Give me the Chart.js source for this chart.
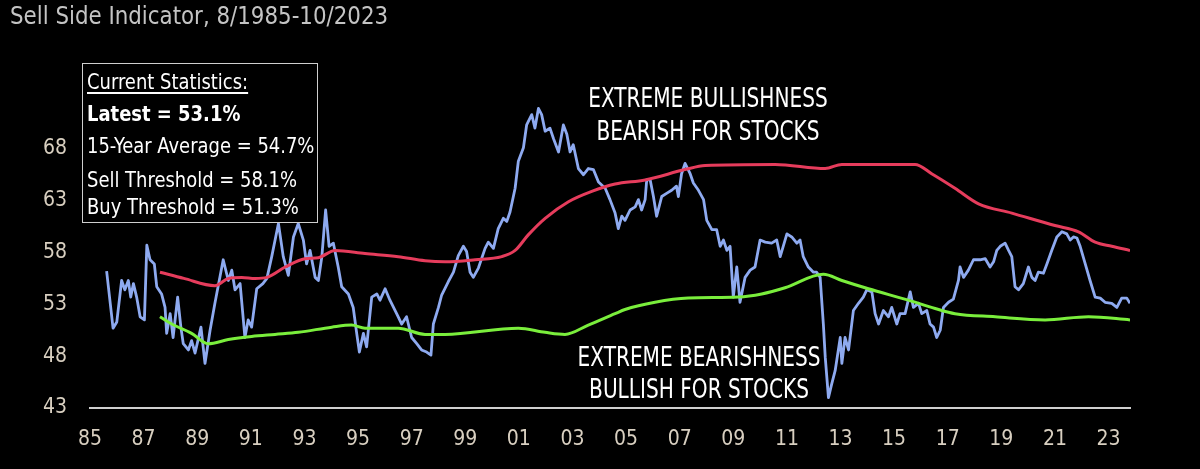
<!DOCTYPE html>
<html>
<head>
<meta charset="utf-8">
<script src="https://cdn.jsdelivr.net/npm/chart.js@4.4.0/dist/chart.umd.min.js"></script>
<style>
  html, body { margin: 0; padding: 0; background: #000; }
  #wrap { position: relative; width: 1200px; height: 469px; overflow: hidden; background: #000;
          font-family: "DejaVu Sans Condensed", "Liberation Sans Narrow", sans-serif; }
  #chart { position: absolute; left: 0; top: 0; }
  .txt { position: absolute; white-space: nowrap; line-height: 1; }
  #title { left: 10px; top: 4px; font-size: 24px; color: #c4c4c4; transform: scaleX(0.99); transform-origin: left center; }
  #stats { position: absolute; left: 82px; top: 63px; width: 234px; height: 158px; border: 1.5px solid #cfcfcf; }
  .st { left: 4px; color: #fff; font-size: 21px; transform: scaleX(0.95); transform-origin: left center; }
  .note { color: #fff; font-size: 26px; text-align: center; width: 300px; transform: scaleX(0.86); transform-origin: center center; }
</style>
</head>
<body>
<div id="wrap">
  <canvas id="chart" width="1200" height="469"></canvas>
  <div id="title" class="txt">Sell Side Indicator, 8/1985-10/2023</div>
  <div id="stats">
    <div class="txt st" style="top:8px;text-decoration:underline;text-underline-offset:3px">Current Statistics:</div>
    <div class="txt st" style="top:40px;font-weight:bold">Latest = 53.1%</div>
    <div class="txt st" style="top:72px">15-Year Average = 54.7%</div>
    <div class="txt st" style="top:106px">Sell Threshold = 58.1%</div>
    <div class="txt st" style="top:133px">Buy Threshold = 51.3%</div>
  </div>
  <div class="txt note" style="left:558px;top:85px">EXTREME BULLISHNESS</div>
  <div class="txt note" style="left:558px;top:118px">BEARISH FOR STOCKS</div>
  <div class="txt note" style="left:549px;top:344px">EXTREME BEARISHNESS</div>
  <div class="txt note" style="left:549px;top:376px">BULLISH FOR STOCKS</div>
</div>
<script>
// ---- data ----
const ssiDates = [
  1985.62, 1985.86, 1986.0, 1986.18, 1986.3, 1986.43, 1986.52, 1986.62, 1986.74, 1986.87,
  1987.03, 1987.12, 1987.24, 1987.4, 1987.49, 1987.67, 1987.8, 1987.86, 1987.99, 1988.1,
  1988.27, 1988.39, 1988.48, 1988.67, 1988.79, 1988.92, 1989.14, 1989.29, 1989.48, 1989.66,
  1989.97, 1990.16, 1990.29, 1990.41, 1990.6, 1990.78, 1990.9, 1991.03, 1991.22, 1991.45,
  1991.6, 1991.78, 1992.03, 1992.21, 1992.4, 1992.59, 1992.77, 1992.96, 1993.08, 1993.21,
  1993.4, 1993.52, 1993.65, 1993.79, 1993.92, 1994.08, 1994.26, 1994.39, 1994.64, 1994.82,
  1994.95, 1995.05, 1995.2, 1995.32, 1995.51, 1995.7, 1995.82, 1996.01, 1996.19, 1996.44,
  1996.63, 1996.81, 1997.0, 1997.19, 1997.37, 1997.56, 1997.72, 1997.81, 1998.0, 1998.12,
  1998.37, 1998.56, 1998.74, 1998.93, 1999.05, 1999.18, 1999.3, 1999.49, 1999.74, 1999.86,
  2000.05, 2000.23, 2000.42, 2000.55, 2000.67, 2000.86, 2000.98, 2001.17, 2001.29, 2001.48,
  2001.6, 2001.73, 2001.85, 2001.98, 2002.16, 2002.29, 2002.48, 2002.66, 2002.79, 2002.91,
  2003.03, 2003.22, 2003.41, 2003.59, 2003.78, 2003.97, 2004.22, 2004.4, 2004.59, 2004.71,
  2004.84, 2004.96, 2005.15, 2005.34, 2005.46, 2005.58, 2005.71, 2005.77, 2005.9, 2006.02,
  2006.14, 2006.33, 2006.51, 2006.7, 2006.88, 2006.95, 2007.07, 2007.2, 2007.39, 2007.51,
  2007.7, 2007.89, 2008.01, 2008.2, 2008.38, 2008.51, 2008.63, 2008.76, 2008.88, 2009.0,
  2009.13, 2009.25, 2009.44, 2009.63, 2009.81, 2010.0, 2010.19, 2010.43, 2010.62, 2010.75,
  2011.0, 2011.18, 2011.37, 2011.49, 2011.61, 2011.8, 2011.99, 2012.11, 2012.24, 2012.36,
  2012.43, 2012.55, 2012.67, 2012.8, 2012.99, 2013.05, 2013.17, 2013.3, 2013.48, 2013.67,
  2013.85, 2013.98, 2014.17, 2014.29, 2014.42, 2014.6, 2014.79, 2014.91, 2015.1, 2015.22,
  2015.41, 2015.6, 2015.72, 2015.91, 2016.03, 2016.22, 2016.34, 2016.47, 2016.59, 2016.72,
  2016.84, 2017.03, 2017.21, 2017.4, 2017.46, 2017.59, 2017.77, 2017.96, 2018.21, 2018.4,
  2018.58, 2018.71, 2018.83, 2018.96, 2019.14, 2019.27, 2019.39, 2019.51, 2019.64, 2019.82,
  2020.01, 2020.14, 2020.26, 2020.38, 2020.57, 2020.7, 2020.88, 2021.07, 2021.26, 2021.44,
  2021.57, 2021.69, 2021.82, 2021.94, 2022.13, 2022.31, 2022.5, 2022.69, 2022.87, 2023.12,
  2023.31, 2023.49, 2023.68, 2023.8
];
const ssiValues = [
  56.2, 50.7, 51.3, 55.3, 54.4, 55.3, 53.7, 55.0, 53.7, 51.8,
  51.5, 58.7, 57.3, 56.9, 54.7, 54.0, 52.7, 50.2, 52.1, 49.8,
  53.7, 50.8, 49.2, 48.6, 49.5, 48.3, 50.8, 47.3, 50.5, 53.1,
  57.3, 55.3, 56.3, 54.4, 55.0, 49.8, 51.5, 50.8, 54.5, 55.0,
  55.5, 57.6, 60.8, 57.6, 55.8, 59.5, 60.8, 59.2, 56.9, 58.2,
  55.6, 55.3, 57.6, 62.1, 58.6, 58.9, 56.6, 54.7, 54.0, 52.7,
  50.2, 48.4, 50.2, 48.9, 53.7, 54.0, 53.4, 54.5, 53.4, 52.1,
  51.1, 51.8, 49.8, 49.2, 48.6, 48.4, 48.1, 51.1, 52.7, 53.9,
  55.2, 56.1, 57.7, 58.6, 58.1, 56.1, 55.6, 56.5, 58.4, 59.0,
  58.4, 60.3, 61.3, 61.0, 61.9, 64.2, 66.8, 68.1, 70.3, 71.3,
  70.0, 71.9, 71.3, 69.7, 70.0, 69.0, 67.7, 70.3, 69.4, 67.7,
  68.4, 66.1, 65.5, 66.1, 66.0, 64.8, 64.2, 63.1, 61.8, 60.3,
  61.5, 61.1, 62.1, 62.4, 63.1, 62.1, 63.1, 65.0, 65.0, 63.4,
  61.5, 63.4, 63.7, 64.0, 64.4, 63.4, 65.6, 66.6, 65.6, 64.7,
  64.0, 63.1, 61.1, 60.2, 60.2, 58.6, 59.2, 58.2, 58.6, 53.7,
  56.6, 53.2, 55.6, 56.3, 56.6, 59.2, 59.0, 58.9, 59.2, 57.6,
  59.8, 59.5, 58.9, 59.2, 57.6, 56.6, 56.1, 56.1, 55.6, 51.1,
  47.9, 44.0, 45.3, 46.6, 49.8, 47.3, 49.8, 48.6, 52.4, 53.1,
  53.7, 54.4, 54.2, 52.1, 51.1, 52.4, 51.8, 52.7, 51.1, 52.1,
  52.1, 54.2, 52.7, 53.1, 52.1, 52.4, 51.1, 50.8, 49.8, 50.5,
  52.7, 53.2, 53.5, 55.3, 56.6, 55.6, 56.3, 57.3, 57.3, 57.4,
  56.6, 57.1, 58.2, 58.6, 58.9, 58.2, 57.6, 54.7, 54.4, 55.0,
  56.6, 55.6, 55.3, 56.1, 56.0, 56.9, 58.2, 59.5, 60.0, 59.8,
  59.2, 59.5, 59.4, 58.6, 56.9, 55.3, 53.7, 53.6, 53.2, 53.1,
  52.7, 53.6, 53.6, 53.1
];

const sellDates = [
  1987.61, 1988.5, 1989.66, 1990.16, 1990.66, 1991.16, 1991.6, 1992.28, 1993.02, 1993.52,
  1994.14, 1995.26, 1996.5, 1997.5, 1998.25, 1999.37, 2000.36, 2000.86, 2001.35, 2001.98,
  2002.85, 2003.72, 2004.59, 2005.71, 2007.2, 2007.95, 2010.56, 2012.43, 2013.05, 2015.78,
  2016.4, 2017.27, 2018.15, 2019.39, 2021.0, 2021.88, 2022.5, 2023.12, 2023.8
];
const sellValues = [
  56.1, 55.5, 54.8, 55.5, 55.6, 55.5, 55.6, 56.6, 57.4, 57.5,
  58.2, 57.9, 57.6, 57.2, 57.1, 57.3, 57.6, 58.2, 59.7, 61.3,
  62.9, 63.9, 64.6, 65.0, 66.0, 66.4, 66.5, 66.1, 66.5, 66.5,
  65.6, 64.2, 62.7, 61.8, 60.6, 60.0, 59.0, 58.6, 58.2
];

const buyDates = [
  1987.61, 1988.05, 1988.79, 1989.41, 1990.16, 1991.03, 1991.9, 1992.77, 1994.02, 1994.76,
  1995.26, 1996.5, 1997.5, 1998.25, 2000.98, 2001.98, 2002.72, 2003.59, 2004.59, 2004.96,
  2006.08, 2007.32, 2009.19, 2010.06, 2010.93, 2012.36, 2013.05, 2014.04, 2015.53, 2016.53,
  2017.27, 2018.77, 2020.63, 2022.25, 2023.8
];
const buyValues = [
  51.8, 51.1, 50.2, 49.2, 49.6, 49.9, 50.1, 50.3, 50.8, 51.0,
  50.7, 50.7, 50.1, 50.1, 50.7, 50.3, 50.1, 51.0, 52.1, 52.5,
  53.2, 53.6, 53.7, 54.0, 54.6, 55.9, 55.3, 54.5, 53.4, 52.6,
  52.1, 51.8, 51.5, 51.8, 51.5
];

const xTicks = [1985, 1987, 1989, 1991, 1993, 1995, 1997, 1999, 2001, 2003,
                2005, 2007, 2009, 2011, 2013, 2015, 2017, 2019, 2021, 2023];
const xTickLabels = ['85', '87', '89', '91', '93', '95', '97', '99', '01', '03',
                     '05', '07', '09', '11', '13', '15', '17', '19', '21', '23'];
const yTicks = [43, 48, 53, 58, 63, 68];

// ---- chart ----
const pts = (xs, ys) => xs.map((x, i) => ({ x: x, y: ys[i] }));
const FONT = '"DejaVu Sans Condensed", "Liberation Sans Narrow", sans-serif';

new Chart(document.getElementById('chart'), {
  type: 'line',
  data: {
    datasets: [
      { label: 'Sell threshold', data: pts(sellDates, sellValues), borderColor: '#e63c5c', borderWidth: 3,
        pointRadius: 0, cubicInterpolationMode: 'monotone' },
      { label: 'Buy threshold', data: pts(buyDates, buyValues), borderColor: '#7aee3c', borderWidth: 3,
        pointRadius: 0, cubicInterpolationMode: 'monotone' },
      { label: 'Sell Side Indicator', data: pts(ssiDates, ssiValues), borderColor: '#8eaaf0', borderWidth: 2.8,
        pointRadius: 0, tension: 0, borderJoinStyle: 'round' }
    ]
  },
  options: {
    responsive: false,
    animation: false,
    layout: { padding: { top: 97, right: 70, left: 0, bottom: 0 } },
    plugins: { legend: { display: false }, tooltip: { enabled: false } },
    scales: {
      x: {
        type: 'linear', min: 1985, max: 2023.8,
        afterBuildTicks: s => { s.ticks = xTicks.map(v => ({ value: v })); },
        afterFit: s => { s.height = 61; },
        grid: { display: false, drawTicks: false, tickLength: 0 },
        border: { display: true, color: '#cfcfcf', width: 2 },
        ticks: { color: '#d8cfc0', padding: 19, maxRotation: 0, autoSkip: false,
                 font: { family: FONT, size: 21 },
                 callback: v => xTickLabels[xTicks.indexOf(v)] }
      },
      y: {
        min: 43, max: 73,
        afterBuildTicks: s => { s.ticks = yTicks.map(v => ({ value: v })); },
        afterFit: s => { s.width = 90; },
        grid: { display: false, drawTicks: false, tickLength: 0 },
        border: { display: false },
        ticks: { color: '#d8cfc0', padding: 23, font: { family: FONT, size: 21 } }
      }
    }
  }
});
</script>
</body>
</html>
